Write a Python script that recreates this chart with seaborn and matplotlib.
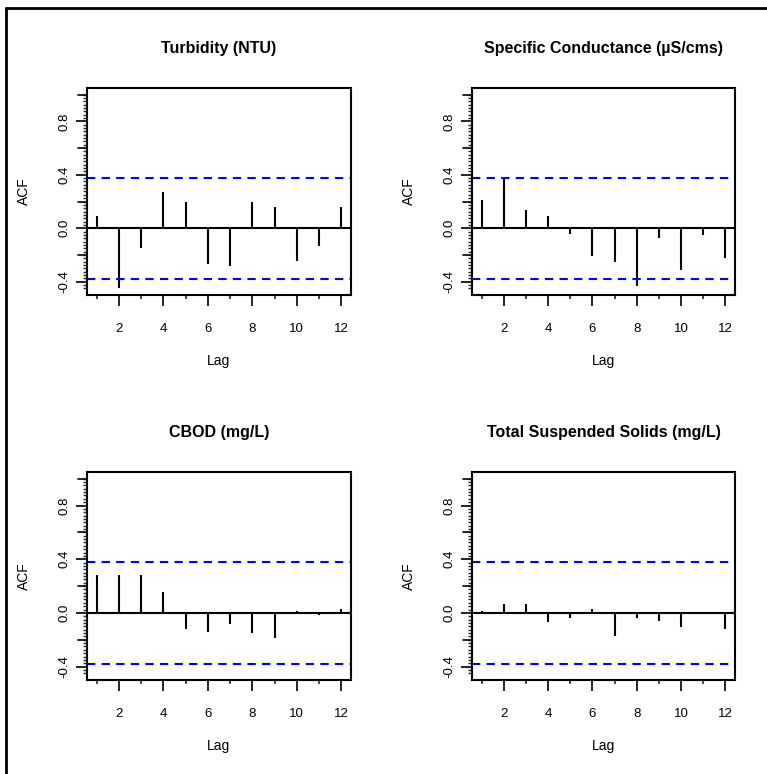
import numpy as np
import matplotlib
matplotlib.use("Agg")
import matplotlib.pyplot as plt
import seaborn as sns
from matplotlib.lines import Line2D
from matplotlib.ticker import FixedLocator

# ACF values, lags 1..12
lags = list(range(1, 13))
titles = ["Turbidity (NTU)", "Specific Conductance (\u00b5S/cms)",
          "CBOD (mg/L)", "Total Suspended Solids (mg/L)"]
acf_turbidity = [0.09, -0.45, -0.15, 0.27, 0.20, -0.27, -0.28, 0.20, 0.16, -0.245, -0.13, 0.16]
acf_conductance = [0.21, 0.38, 0.135, 0.09, -0.04, -0.205, -0.255, -0.43, -0.075, -0.31, -0.05, -0.22]
acf_cbod = [0.28, 0.28, 0.28, 0.155, -0.12, -0.14, -0.085, -0.15, -0.185, 0.015, -0.015, 0.03]
acf_tss = [0.015, 0.07, 0.07, -0.07, -0.04, 0.03, -0.175, -0.04, -0.06, -0.105, 0.01, -0.12]
conf_limit = 0.378

series = [acf_turbidity, acf_conductance, acf_cbod, acf_tss]

sns.set_style("ticks")
plt.rcParams['font.family'] = ['Liberation Sans', 'DejaVu Sans']
plt.rcParams['axes.unicode_minus'] = False
plt.rcParams['text.color'] = 'black'
plt.rcParams['axes.labelcolor'] = 'black'
title_font = ['Liberation Sans Narrow', 'Liberation Sans', 'DejaVu Sans']

W, H = 767, 774
fig = plt.figure(figsize=(W / 100, H / 100), dpi=100)

# axes boxes in pixels: left, top, right, bottom
boxes = [(87, 88, 351, 295), (472, 88, 735, 295),
         (87, 472, 351, 680), (472, 472, 735, 680)]

for title, vals, (l, t, r, b) in zip(titles, series, boxes):
    ax = fig.add_axes([l / W, 1 - b / H, (r - l) / W, (b - t) / H])
    ax.vlines(lags, 0, vals, color='black', linewidth=1.5)
    ax.axhline(0, color='black', linewidth=1.5)
    ax.axhline(conf_limit, color='#0000FF', linestyle=(0, (4, 3)), linewidth=1.5)
    ax.axhline(-conf_limit, color='#0000FF', linestyle=(0, (4, 3)), linewidth=1.5)

    ax.set_xlim(0.56, 12.44)
    ax.set_ylim(-0.5, 1.05)

    ax.xaxis.set_major_locator(FixedLocator([2, 4, 6, 8, 10, 12]))
    ax.xaxis.set_minor_locator(FixedLocator([1, 3, 5, 7, 9, 11]))
    ax.yaxis.set_major_locator(FixedLocator([-0.4, 0.0, 0.4, 0.8]))
    ax.yaxis.set_minor_locator(FixedLocator(np.arange(-0.45, 1.0001, 0.025)))
    ax.tick_params(axis='x', which='major', length=8, width=1.2, labelsize=9.5, pad=12, colors='black')
    ax.tick_params(axis='x', which='minor', length=3, width=1.2)
    ax.tick_params(axis='y', which='major', length=8, width=1.2, labelsize=9.5, pad=4, colors='black')
    ax.tick_params(axis='y', which='minor', length=3, width=1)
    # longer ticks at the unlabelled 0.2 steps
    for yv in [-0.2, 0.2, 0.6, 1.0]:
        ax.plot([-0.035, 0], [yv, yv], transform=ax.get_yaxis_transform(),
                color='black', linewidth=1.2, clip_on=False)
    for lbl in ax.get_yticklabels():
        lbl.set_rotation(90)
        lbl.set_va('center')

    for s in ax.spines.values():
        s.set_visible(True)
        s.set_color('black')
        s.set_linewidth(1.5)

    ax.set_xlabel("Lag", fontsize=10, labelpad=14)
    ax.set_ylabel("ACF", fontsize=10, labelpad=20)
    ax.set_title(title, fontsize=11.5, fontweight='bold', family=title_font, pad=25,
                 color='black')

# frame lines at the left and top edge
fig.add_artist(Line2D([6 / W, 6 / W], [0, 1 - 8 / H], color='black', linewidth=2))
fig.add_artist(Line2D([6 / W, 1], [1 - 8 / H, 1 - 8 / H], color='black', linewidth=2))

fig.savefig("out.png", dpi=100)
